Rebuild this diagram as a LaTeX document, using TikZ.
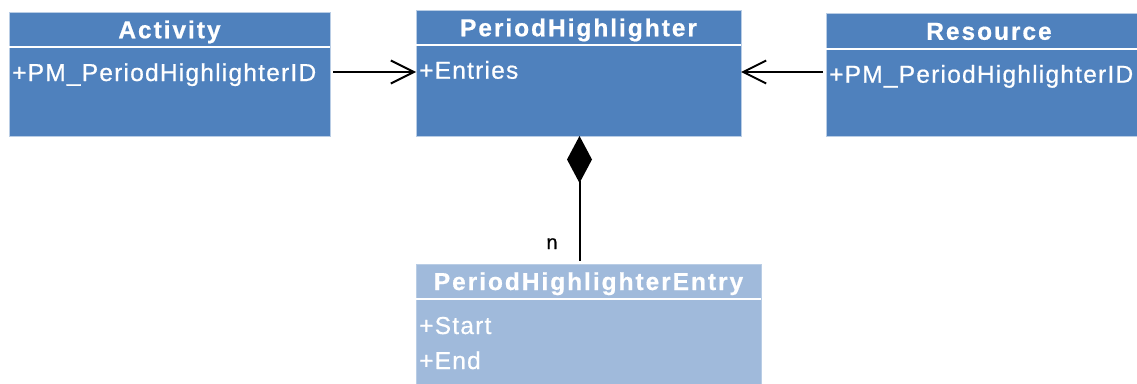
\documentclass[tikz,border=0pt]{standalone}
\usepackage{fontspec}
\setmainfont{Liberation Sans}
\newfontfamily\titlefont[LetterSpace=8,FakeBold=0.6]{Liberation Sans}
\newfontfamily\attrfont[LetterSpace=5,FakeBold=0.6]{Liberation Sans}
\newfontfamily\multfont[FakeBold=0.8]{Liberation Sans}
\usetikzlibrary{arrows.meta}
\definecolor{dark}{RGB}{79,129,189}
\definecolor{light}{RGB}{160,186,219}
\definecolor{edge}{RGB}{185,205,229}
\begin{document}
\begin{tikzpicture}[x=1pt,y=-1pt,
  box/.style={draw=edge, line width=0.8pt, inner sep=0pt, anchor=north west, outer sep=0pt},
  hdr/.style={box, font=\titlefont\bfseries\fontsize{24.5}{28}\selectfont, text=white, text height=17.5pt, text depth=0pt},
  attr/.style={font=\attrfont\fontsize{24.5}{28}\selectfont, text=white, inner sep=0pt, anchor=base west},
  sep/.style={white, line width=2pt},
  conn/.style={black, line width=2pt},
  open/.style={conn, -{Straight Barb[length=23pt, width=23pt, line width=2pt]}}]
\useasboundingbox (0,0) rectangle (1137,383);
% Activity
\node[hdr, fill=dark, minimum width=321pt, minimum height=35pt] (acth) at (9,12) {Activity};
\node[box, fill=dark, minimum width=321pt, minimum height=89pt] (actb) at (9,47) {};
\draw[sep] (acth.south west) -- (acth.south east);
\node[attr] (acta) at (12,81) {+PM\_PeriodHighlighterID};
% PeriodHighlighter
\node[hdr, fill=dark, minimum width=325pt, minimum height=35pt] (phh) at (416,10) {PeriodHighlighter};
\node[box, fill=dark, minimum width=325pt, minimum height=91pt] (phb) at (416,45) {};
\draw[sep] (phh.south west) -- (phh.south east);
\node[attr] (pha) at (419,78.7) {+Entries};
% Resource
\node[hdr, fill=dark, minimum width=326pt, minimum height=35pt] (resh) at (826,13.5) {Resource};
\node[box, fill=dark, minimum width=326pt, minimum height=87.5pt] (resb) at (826,48.5) {};
\draw[sep] (resh.south west) -- (resh.south east);
\node[attr] (resa) at (829,82.7) {+PM\_PeriodHighlighterID};
% PeriodHighlighterEntry
\node[hdr, fill=light, minimum width=345pt, minimum height=34.5pt] (enth) at (416,264) {PeriodHighlighterEntry};
\node[box, fill=light, minimum width=345pt, minimum height=90pt] (entb) at (416,298.5) {};
\draw[sep] (enth.south west) -- (enth.south east);
\node[attr] (ents) at (419,334) {+Start};
\node[attr] (ente) at (419,369) {+End};
% connectors
\coordinate (a1) at (333,72);
\coordinate (r1) at (823,72);
\draw[open] (a1) -- (a1 -| phb.west);
\draw[open] (r1) -- (r1 -| phb.east);
\coordinate (d1) at (579.5,136);
\coordinate (d2) at (579.5,261);
\draw[conn, {Diamond[length=47pt, width=25pt, line width=0pt, fill=black]}-] (d1) -- (d2);
\node[font=\multfont\fontsize{20}{24}\selectfont, inner sep=0pt, anchor=base] (mult) at (552,249) {n};
\end{tikzpicture}
\end{document}
